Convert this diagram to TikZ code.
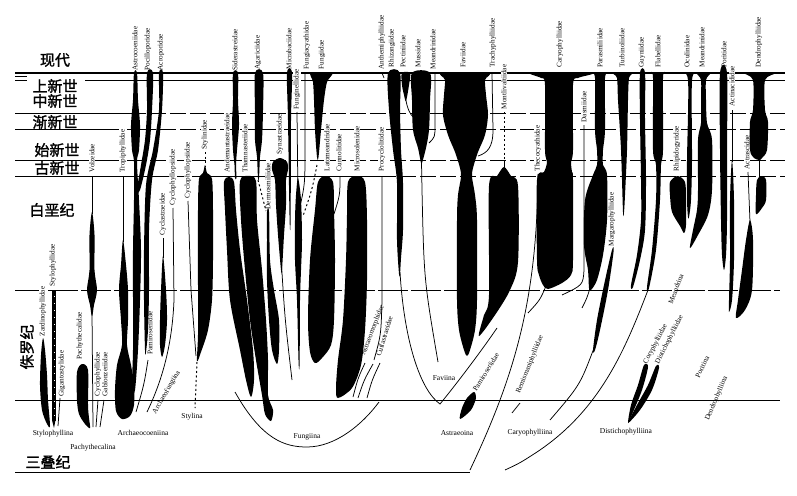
\documentclass[tikz,border=0pt]{standalone}
\usepackage{fontspec}
\setmainfont{Liberation Serif}
\newfontfamily\cjk[FakeBold=1.5]{Noto Sans CJK SC}
\begin{document}
\begin{tikzpicture}[x=1pt,y=-1pt,
  hl/.style={line width=0.9pt},
  dl/.style={line width=0.9pt,dash pattern=on 16pt off 4pt},
  blk/.style={fill=black},
  ln/.style={line width=0.75pt},
  dotl/.style={line width=1pt,dash pattern=on 2pt off 2.5pt},
  fam/.style={rotate=90,anchor=west,inner sep=0.6pt,fill=white,font=\fontsize{7.2}{8}\selectfont},
  sub/.style={inner sep=0.8pt,font=\fontsize{7.5}{8}\selectfont},
  tilt/.style={rotate=#1,anchor=west,inner sep=0.6pt,font=\fontsize{7.2}{8}\selectfont},
  era/.style={inner sep=0pt,font=\cjk\fontsize{15}{15}\selectfont}]
\useasboundingbox (0,0) rectangle (797,495);
\fill[white] (0,0) rectangle (797,495);
\newcommand{\shp}[1]{\fill[blk] plot[smooth cycle,tension=0.5] coordinates {#1};}
% ---------- time lines ----------
\draw[hl,line width=1.3pt] (15,73) -- (785,73);
\draw[hl] (85,80) -- (785,80);
\draw[hl] (15,76.5) -- (27,76.5);
\draw[hl] (15,80) -- (27,80);
\draw[hl] (15,113) -- (130,113); \draw[dl] (130,113) -- (785,113);
\draw[hl] (15,129) -- (120,129); \draw[dl] (120,129) -- (785,129);
\draw[hl] (15,160) -- (130,160); \draw[dl] (130,160) -- (785,160);
\draw[hl] (15,176) -- (380,176); \draw[dl] (380,176) -- (785,176);
\draw[hl,dash pattern=on 30pt off 3pt] (15,290) -- (780,290);
\draw[hl] (15,400) -- (780,400);
\draw[hl] (15,472) -- (470,472);
% ---------- era labels ----------
\node[era] (e0) at (55,60) {现代};
\node[era] (e1) at (55,86) {上新世};
\node[era] (e2) at (55,101) {中新世};
\node[era] (e3) at (55,122) {渐新世};
\node[era] (e4) at (57,150) {始新世};
\node[era] (e5) at (57,168) {古新世};
\node[era] (e6) at (52,210) {白垩纪};
\node[era,rotate=90] (e7) at (27,347) {侏罗纪};
\node[era] (e8) at (48,462) {三叠纪};
% ---------- family labels ----------
\node[fam] (f1) at (135,71) {Astrocoeniidae};
\node[fam] (f2) at (148,71) {Pocilloporidae};
\node[fam] (f3) at (161,71) {Acroporidae};
\node[fam] (f4) at (235,71) {Siderastreidae};
\node[fam] (f5) at (258,70) {Agariciidae};
\node[fam] (f6) at (289,70) {Micrabaciidae};
\node[fam] (f7) at (307,70) {Fungiacyathidae};
\node[fam] (f8) at (322,70) {Fungiidae};
\node[fam] (f9) at (382,70) {Anthemiphylliidae};
\node[fam] (f10) at (392,68) {Rhizangiidae};
\node[fam] (f11) at (403,68) {Pectiniidae};
\node[fam] (f12) at (418,68) {Mussidae};
\node[fam] (f13) at (433,70) {Meandrinidae};
\node[fam] (f14) at (463,68) {Faviidae};
\node[fam] (f15) at (493,68) {Trachyphylliidae};
\node[fam] (f16) at (560,68) {Caryophylliidae};
\node[fam] (f17) at (600,68) {Parasmiliidae};
\node[fam] (f18) at (622,68) {Turbinoliidae};
\node[fam] (f19) at (642,68) {Guyniidae};
\node[fam] (f20) at (658,68) {Flabellidae};
\node[fam] (f21) at (687,68) {Oculinidae};
\node[fam] (f22) at (702,68) {Meandrinidae};
\node[fam] (f23) at (724,68) {Poritidae};
\node[fam] (f24) at (759,68) {Dendrophylliidae};
\node[fam] (g1) at (92,173) {Volzeidae};
\node[fam] (g2) at (123,173) {Tropiphyllidae};
\node[fam] (g3) at (163,236) {Cyclastraeidae};
\node[fam] (g4) at (173,206) {Cyclophyllopsiidae};
\node[fam] (g5) at (188,199) {Cyclophyllopsiidae};
\node[fam] (g6) at (205,150) {Stylinidae};
\node[fam] (g7) at (227,173) {Andemantastraeidae};
\node[fam] (g8) at (245,173) {Thamnasteriidae};
\node[fam] (g9) at (268,210) {Dermosmiliidae};
\node[fam] (g10) at (280,155) {Synastraeidae};
\node[fam] (g11) at (297,110) {Funginellidae};
\node[fam] (g12) at (327,172) {Latomeandridae};
\node[fam] (g13) at (339,172) {Cunnolitidae};
\node[fam] (g14) at (357,172) {Microsolenidae};
\node[fam] (g15) at (382,172) {Procyclolitidae};
\node[fam] (g16) at (504,110) {Montlivaltiidae};
\node[fam] (g17) at (538,172) {Thecocyathidae};
\node[fam] (g18) at (584,123) {Dasmiidae};
\node[fam] (g19) at (612,247) {Margarophylliidae};
\node[fam] (g20) at (677,172) {Rhipidogyridae};
\node[fam] (g21) at (732,107) {Actinacididae};
\node[fam] (g22) at (747,170) {Actrascidae};
\node[fam] (h1) at (43,337) {Zardinophyllidae};
\node[fam] (h2) at (53,287) {Stylophyllidae};
\node[fam] (h3) at (62,397) {Gigantostylidae};
\node[fam] (h4) at (80,360) {Pachythecalidae};
\node[fam] (h5) at (98,397) {Cyclophyllidae};
\node[fam] (h6) at (105,397) {Gablonzeriidae};
\node[fam] (h7) at (150,355) {Pamiroseriidae};
% tilted labels
\node[tilt=60] (t1) at (154,414) {Archaeofungiina};
\node[tilt=69] (t2) at (363,356) {Astraeomorphidae};
\node[tilt=73] (t3) at (378,357) {Cuifastraeidae};
\node[tilt=58] (t4) at (474,391) {Pamiroseriidae};
\node[tilt=68] (t5) at (518,394) {Remismaniphylliidae};
\node[tilt=69] (t6) at (670,304) {Meandrina};
\node[tilt=62] (t7) at (645,364) {Coryphylliidae};
\node[tilt=63] (t8) at (657,364) {Distichophylliidae};
\node[tilt=64] (t9) at (697,378) {Poritina};
\node[tilt=67] (t10) at (707,421) {Dendrophylliina};
% ---------- left group ----------
\shp{(43,338) (45,350) (47,375) (48,400) (50,426) (47,424) (42,410) (40,385) (41,355)}
\fill[blk] (52,290) rectangle (55.5,421);
\fill[blk] (52,420) -- (55.5,420) -- (54,428) -- cycle;
\draw[white,line width=0.6pt,dash pattern=on 1pt off 6pt] (53.8,296) -- (53.8,418);
\draw[ln] (60,398) -- (58,426);
\shp{(77,372) (82,364) (88,370) (88,405) (89,418) (90,428) (85,424) (79,414) (77,400)}
\draw[ln] (92,176) -- (92,214);
\shp{(92,212) (94.5,235) (94.5,270) (97,290) (94,305) (92.5,315) (91.5,315) (90,305) (87,290) (89.5,270) (89.5,235)}
\draw[ln] (92,312) -- (93,427);
\draw[ln] (98,400) -- (96,427);
\draw[ln] (104,400) -- (100,427);
% ---------- Archaeocoeniina ----------
\draw[ln] (123,176) -- (123,242);
\shp{(123,240) (126,265) (128,290) (128,320) (127,345) (131,365) (134,385) (134,405) (130,416) (122,419) (116,411) (115,390) (117,365) (122,345) (121,320) (119,290) (121,265)}
\shp{(134,73) (137,73) (138,100) (140,125) (139,150) (137,162) (139,200) (141,250) (140,300) (138,350) (135,390) (132,388) (133,350) (133,300) (133,250) (134,200) (134,162) (132,150) (131,125) (133,100)}
\shp{(147,73) (153,73) (152,110) (150,140) (146,165) (140,190) (137,190) (141,165) (145,140) (147,110)}
\shp{(159,73) (163,73) (162,110) (158,150) (152,180) (149,230) (149,290) (148,330) (146,352) (145,350) (144,300) (144,250) (146,185) (153,150) (159,110)}
\draw[ln] (148,360) .. controls (144,385) .. (136,412);
\draw[ln] (163,238) -- (163,258);
\shp{(163,256) (166,290) (167,320) (165,345) (162,357) (160,345) (160,320) (161,290)}
\draw[ln] (173,208) -- (174,300) .. controls (172,350) and (160,385) .. (147,412);
\draw[ln] (188,201) -- (191,290) -- (196,356);
\draw[dotl] (197,362) -- (195,408);
\draw[dotl] (205,152) -- (205,167);
\shp{(205,165) (207,173) (212,179) (213,210) (213,260) (212,300) (208,330) (201,352) (197,361) (198,335) (198,290) (198,210) (199,179) (203,173)}
% ---------- Fungiina ----------
\shp{(233,73) (238,73) (238,100) (239,125) (237,150) (236,165) (236.5,178) (235,178) (234.5,165) (233,150) (232,125) (233,100)}
\shp{(255,73) (263,73) (263,110) (262,140) (260,157) (259,178) (258,178) (257,157) (255,140) (255,110)}
\shp{(224,182) (229,177) (234,182) (236,210) (240,250) (247,300) (253,350) (254,380) (251,397) (246,380) (240,350) (230,300) (227,250) (225,210)}
\shp{(240,181) (248,176) (256,181) (257,220) (262,270) (266,320) (268,360) (268,395) (273,410) (271,421) (265,414) (262,395) (256,360) (250,320) (245,270) (241,220)}
\draw[dotl] (258,180) .. controls (262,195) .. (266,211);
\shp{(267,212) (269,212) (270,260) (274,290) (279,320) (279,350) (277,364) (272,350) (269,320) (267,280) (267,240)}
\shp{(280,158) (287,162) (288,170) (286,180) (286,205) (284,235) (282,270) (281,270) (278,235) (276,205) (275,180) (272,170) (273,162)}
\draw[ln] (281.5,265) .. controls (285,320) .. (292,380);
\shp{(287,73) (292,73) (291,120) (290.6,220) (289.6,220) (288,120)}
\draw[ln] (297,112) -- (298,200);
\draw[ln] (305,73) -- (305,150) .. controls (305,185) .. (298,215);
\shp{(311,73) (332,73) (327,82) (324,100) (321,130) (318.5,157) (317,157) (315,130) (314,100) (313,82)}
\draw[dotl] (317,165) .. controls (312,190) .. (303,216);
\shp{(298,178) (301,200) (302,240) (301,270) (300,300) (299.6,363) (298.6,363) (297,300) (295,260) (295,220) (296,195)}
\shp{(318,182) (325.5,176) (333,182) (334,210) (335,260) (334,320) (331,345) (322,358) (315,363) (310,352) (308,320) (310,260) (315,210)}
\draw[ln] (340,176) .. controls (340,195) .. (334,214);
\shp{(348,182) (356.5,176) (365,182) (367,220) (367,280) (365,330) (361,365) (352,388) (338,398) (336,388) (338,360) (343,320) (346,260) (347,215)}
\draw[ln] (382,176) -- (382,300) .. controls (381,335) .. (374,360);
\draw[ln] (365,363) .. controls (358,378) .. (353,397);
\draw[ln] (373,364) .. controls (364,380) .. (358,398);
\draw[ln] (380,363) .. controls (372,380) .. (367,398);
\draw[ln] (235,392) .. controls (262,440) and (285,447) .. (307,447) .. controls (335,447) and (362,425) .. (379,402);
% ---------- Faviina ----------
\draw[ln] (382,73) -- (384,78);
\shp{(388,73) (400,73) (400,110) (401,150) (403,183) (403,230) (401,258) (400,274) (399,274) (397,240) (397,183) (393,150) (389,110)}
\draw[ln] (400,272) .. controls (404,340) and (420,390) .. (440,404) .. controls (458,382) and (482,350) .. (497,328);
\shp{(402,73) (410,73) (409,85) (406,101) (404,95) (402,85)}
\draw[ln] (404,80) .. controls (405,108) and (410,120) .. (422,121);
\shp{(412,73) (430,73) (430,100) (429,130) (426,148) (422,163) (421,163) (418,148) (413,130) (412,100)}
\draw[ln] (421.5,162) -- (422,190) .. controls (424,280) .. (438,362);
\draw[ln] (435,73) -- (435,125) .. controls (435,137) .. (429,143);
\shp{(442,73) (488,73) (485,80) (486,95) (488,115) (485,135) (478,152) (473,168) (472,177) (475,195) (477,220) (477,300) (475,330) (470,350) (467,356) (464,350) (459,330) (457,300) (457,220) (458,195) (461,177) (460,168) (455,152) (448,135) (443,115) (444,95) (445,80)}
\draw[ln] (492,73) -- (493,130) .. controls (493,148) and (487,153) .. (478,156);
\draw[dotl] (504,112) -- (504,160);
\draw[ln] (504,160) -- (504,168);
\shp{(504,167) (511,176) (518,186) (518,262) (510,290) (495,315) (479,336) (484,315) (489,295) (489,186) (497,176)}
\shp{(474,392) (476,398) (471,410) (460,419) (462,408) (467,398)}
% ---------- Caryophylliina ----------
\draw[ln] (538,174) .. controls (537,300) and (515,375) .. (470,470);
\shp{(532,73) (592,73) (578,78) (573,85) (573,150) (571,162) (572,172) (573,180) (573,260) (571,275) (562,283) (548,289) (543,285) (539,275) (537,260) (537,180) (544,172) (547,162) (545,150) (545,85) (541,78)}
\draw[ln] (546,286) .. controls (540,300) .. (528,313);
\draw[ln] (584,125) -- (584,270) .. controls (583,285) .. (562,295);
\shp{(592,73) (608,73) (605,78) (605,130) (603,150) (603,165) (607,175) (607,220) (603,255) (597,280) (591,290) (589,288) (588,270) (584,245) (585,200) (593,175) (597,165) (597,150) (595,130) (595,78)}
\draw[ln] (590,288) .. controls (587,298) .. (582,308);
\shp{(612,250) (613.5,252) (608,290) (600,330) (595,350) (593,350) (597,320) (604,285)}
\draw[ln] (594,348) .. controls (580,385) .. (550,420);
\draw[ln] (648,290) .. controls (625,350) and (600,410) .. (537,452) .. controls (520,463) .. (505,470);
\draw[ln] (520,403) -- (512,413);
% ---------- right families ----------
\shp{(613,73) (632,73) (629,78) (628,100) (627,150) (625,195) (624,212) (623,212) (621,150) (618,100) (617,78)}
\shp{(640,73) (645,73) (645,120) (646,180) (645,230) (640,260) (633,287) (631,285) (637,255) (641,220) (641,180) (640,120)}
\shp{(651,73) (665,73) (663,78) (663,150) (661,165) (660,200) (656,250) (649,288) (647,287) (652,250) (656,200) (656,165) (653,150) (653,78)}
\shp{(670,182) (677.5,176) (685,182) (686,200) (686,225) (684,233) (680,226) (672,212) (670,195)}
\shp{(680,73) (698,73) (692,80) (692,160) (691,200) (689,217) (688,217) (687,200) (687,160) (688,80)}
\shp{(697,73) (710,73) (706,80) (706,100) (707,123) (712,140) (712,190) (708,215) (698,235) (690,248) (693,230) (697,210) (698,190) (698,140) (701,123) (701,100) (701,80)}
\shp{(720,73) (727,73) (727,150) (727,220) (726,255) (724,270) (722,255) (721,220) (720,150)}
\draw[ln] (732,110) -- (732,162);
\shp{(732,160) (734,200) (734,260) (732,300) (729,312) (729,300) (730,260) (730,200)}
\draw[ln] (748,172) -- (750,222);
\shp{(750,220) (753,240) (752,290) (745,310) (736,318) (738,300) (742,270) (746,240)}
\shp{(745,73) (775,73) (765,80) (765,110) (768,122) (767,150) (762,158) (760,160) (759,160) (754,158) (750,150) (750,122) (753,110) (753,80)}
\draw[ln] (759.5,158) -- (759.5,177);
\shp{(757,180) (761.5,176) (766,180) (766,200) (762,208) (756,214) (756,195)}
% Distichophylliina blades
\shp{(644,365) (648,367) (642,390) (633,412) (628,423) (631,405) (638,385)}
\shp{(656,366) (659,368) (652,390) (640,410) (628,423) (637,405) (648,385)}
% ---------- suborder labels ----------
\node[sub] (s1) at (53,434) {Stylophyllina};
\node[sub] (s2) at (93,448) {Pachythecalina};
\node[sub] (s3) at (143,433) {Archaeocoeniina};
\node[sub] (s4) at (192,417) {Stylina};
\node[sub,fill=white] (s5) at (307,437) {Fungiina};
\node[sub] (s6) at (444,378) {Faviina};
\node[sub] (s7) at (457,433) {Astraeoina};
\node[sub] (s8) at (530,433) {Caryophylliina};
\node[sub] (s9) at (626,432) {Distichophylliina};
\end{tikzpicture}
\end{document}
